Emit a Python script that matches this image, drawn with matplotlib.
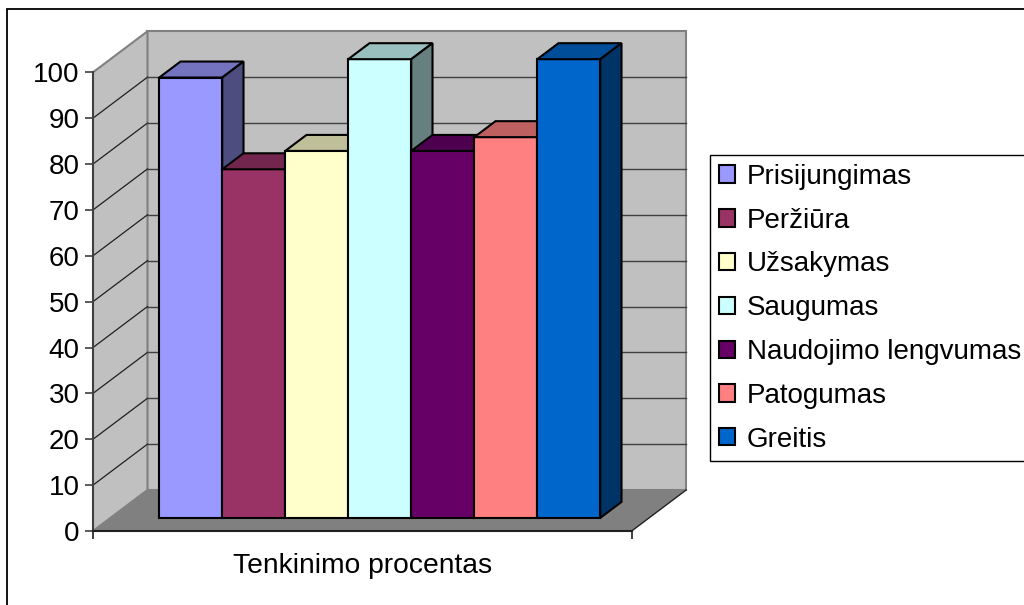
"""
3D-style column chart: satisfaction percentage per feature.
"""

import matplotlib
matplotlib.use("Agg")
import matplotlib.pyplot as plt
from matplotlib.patches import Polygon, Patch, Rectangle

categories = ["Prisijungimas", "Peržiūra", "Užsakymas", "Saugumas",
              "Naudojimo lengvumas", "Patogumas", "Greitis"]
values = [96, 76, 80, 100, 80, 83, 100]
front_colors = ["#9999FF", "#993366", "#FFFFCC", "#CCFFFF",
                "#660066", "#FF8080", "#0066CC"]
y_ticks = list(range(0, 101, 10))
x_label = "Tenkinimo procentas"

plt.rcParams["font.family"] = ["Liberation Sans", "DejaVu Sans"]

# oblique projection: a point at depth d (0 front .. 1 back) moves right/up
DX, DY = 0.865, 8.94          # shift for full depth, in data units
FLOOR_W = 8.55                # width of the floor in bar-width units
BAR_FRONT, BAR_BACK = 0.32, 0.71
VMAX = 100


def shade(hex_color, k):
    r, g, b = matplotlib.colors.to_rgb(hex_color)
    return (r * k, g * k, b * k)


W, H = 1024, 605
fig = plt.figure(figsize=(W / 100, H / 100), dpi=100)
ax = fig.add_axes([93 / W, 74 / H, 600 / W, 510 / H])
ax.set_xlim(0, 600 / 63)
ax.set_ylim(0, 510 / 4.587)

wall = "#C0C0C0"
edge_gray = "#808080"

# back wall, left wall, floor
ax.add_patch(Rectangle((DX, DY), FLOOR_W, VMAX, facecolor=wall,
                       edgecolor=edge_gray, lw=1.5, zorder=1))
ax.add_patch(Polygon([(0, 0), (0, VMAX), (DX, VMAX + DY), (DX, DY)],
                     closed=True, facecolor=wall, edgecolor=edge_gray,
                     lw=1.5, zorder=1))
ax.add_patch(Polygon([(0, 0), (FLOOR_W, 0), (FLOOR_W + DX, DY), (DX, DY)],
                     closed=True, facecolor="#808080", edgecolor="none",
                     zorder=1.5))
ax.plot([FLOOR_W, FLOOR_W + DX], [0, DY], color="#202020", lw=1, zorder=1.6)

# gridlines on the walls
for v in y_ticks[1:-1]:
    ax.plot([0, DX], [v, v + DY], color="#202020", lw=0.9, zorder=2)
    ax.plot([DX, DX + FLOOR_W], [v + DY, v + DY], color="#404040",
            lw=1.0, zorder=2)

# bars
margin = (FLOOR_W - len(values)) / 2
bd = BAR_BACK - BAR_FRONT
for i, (v, c) in enumerate(zip(values, front_colors)):
    z = 3 + i
    x0 = margin + i + BAR_FRONT * DX
    y0 = BAR_FRONT * DY
    ax.bar(x0, v, width=1, bottom=y0, align="edge", color=c,
           edgecolor="black", lw=1.5, zorder=z)
    top = y0 + v
    ax.add_patch(Polygon([(x0, top), (x0 + 1, top),
                          (x0 + 1 + bd * DX, top + bd * DY),
                          (x0 + bd * DX, top + bd * DY)],
                         closed=True, facecolor=shade(c, 0.75),
                         edgecolor="black", lw=1.5, zorder=z))
    ax.add_patch(Polygon([(x0 + 1, y0), (x0 + 1 + bd * DX, y0 + bd * DY),
                          (x0 + 1 + bd * DX, top + bd * DY), (x0 + 1, top)],
                         closed=True, facecolor=shade(c, 0.5),
                         edgecolor="black", lw=1.5, zorder=z))

# axes
for s in ("top", "right"):
    ax.spines[s].set_visible(False)
ax.spines["left"].set_bounds(0, VMAX)
ax.spines["left"].set_color("#404040")
ax.spines["left"].set_linewidth(1.5)
ax.spines["left"].set_zorder(20)
ax.spines["bottom"].set_bounds(0, FLOOR_W)
ax.spines["bottom"].set_color("#202020")
ax.spines["bottom"].set_linewidth(1.5)
ax.spines["bottom"].set_zorder(20)
ax.set_yticks(y_ticks)
ax.set_yticklabels([str(t) for t in y_ticks], fontsize=20)
ax.set_xticks([0, FLOOR_W])
ax.set_xticklabels([])
ax.tick_params(axis="y", direction="out", length=6, width=1.2,
               color="#404040", pad=3.5)
ax.tick_params(axis="x", direction="out", length=6, width=1.2,
               color="#202020")
ax.text(FLOOR_W / 2, -7.6, x_label, ha="center", va="center",
        fontsize=20.3, clip_on=False)

# legend
handles = [Patch(facecolor=c, edgecolor="black", lw=1.5, label=n)
           for n, c in zip(categories, front_colors)]
leg = fig.legend(handles=handles, loc="upper left",
                 bbox_to_anchor=(710 / W, 1 - 155 / H), borderaxespad=0,
                 fontsize=20, frameon=True, fancybox=False, framealpha=1,
                 edgecolor="black", handlelength=0.58, handleheight=0.58,
                 handletextpad=0.43, labelspacing=0.64, borderpad=0.32)
leg.get_frame().set_linewidth(1.0)

# outer chart frame
fig.patches.append(Rectangle((7 / W, -0.1), 1.2, 1 - 9 / H + 0.1,
                             transform=fig.transFigure, fill=False,
                             edgecolor="black", lw=1.3))

fig.savefig("out.png", dpi=100)
